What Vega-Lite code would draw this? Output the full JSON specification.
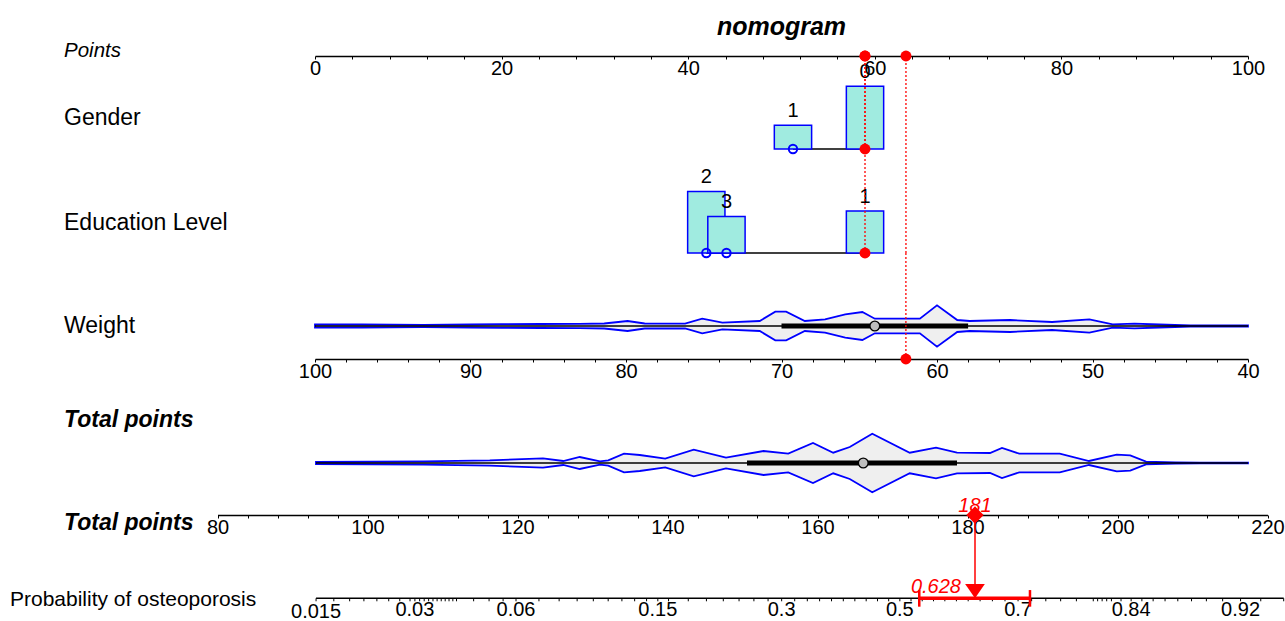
{
  "$schema": "https://vega.github.io/schema/vega-lite/v6.json",
  "padding": 0,
  "bounds": "flush",
  "spacing": 0,
  "config": {
    "view": {"stroke": null},
    "font": "Liberation Sans",
    "axis": {"grid": false, "domainColor": "black", "domainWidth": 1.5, "tickColor": "black", "tickWidth": 1, "tickSize": 3, "labelColor": "black", "labelFontSize": 20, "labelFont": "Liberation Sans", "labelPadding": -1, "labelFlush": false, "labelOverlap": false, "labelBound": false}
  },
  "datasets": {
    "selected": [
      {"variable": "Gender", "value": 0, "points": 58.95},
      {"variable": "Education Level", "value": 1, "points": 58.95},
      {"variable": "Weight", "value": 62, "points": 63.34}
    ],
    "gender": [
      {"level": "0", "points": 58.95, "freq": 0.726, "chosen": true},
      {"level": "1", "points": 51.23, "freq": 0.274, "chosen": false}
    ],
    "education": [
      {"level": "2", "points": 41.94, "freq": 0.44, "chosen": false},
      {"level": "3", "points": 44.1, "freq": 0.26, "chosen": false},
      {"level": "1", "points": 58.95, "freq": 0.3, "chosen": true}
    ],
    "weightDensity": [
      {"weight": 100, "upper": 1.5, "lower": -1.5},
      {"weight": 97, "upper": 1.5, "lower": -1.5},
      {"weight": 93, "upper": 1.2, "lower": -1.2},
      {"weight": 90, "upper": 1.5, "lower": -1.5},
      {"weight": 88, "upper": 1.8, "lower": -1.8},
      {"weight": 85.5, "upper": 2, "lower": -2},
      {"weight": 83, "upper": 2.2, "lower": -2.2},
      {"weight": 81.4, "upper": 2.5, "lower": -2.5},
      {"weight": 79.9, "upper": 5, "lower": -5},
      {"weight": 78.8, "upper": 2.5, "lower": -2.5},
      {"weight": 76.2, "upper": 2.3, "lower": -2.3},
      {"weight": 75.1, "upper": 7.3, "lower": -7.3},
      {"weight": 73.8, "upper": 3.3, "lower": -3.3},
      {"weight": 71.4, "upper": 5, "lower": -5},
      {"weight": 70.4, "upper": 14.3, "lower": -14.3},
      {"weight": 69.7, "upper": 14.3, "lower": -14.3},
      {"weight": 68.5, "upper": 5, "lower": -5},
      {"weight": 67.2, "upper": 6.7, "lower": -6.7},
      {"weight": 65.9, "upper": 11.7, "lower": -11.7},
      {"weight": 64.8, "upper": 14, "lower": -14},
      {"weight": 64, "upper": 7.3, "lower": -7.3},
      {"weight": 63, "upper": 7.3, "lower": -7.3},
      {"weight": 61.1, "upper": 7.3, "lower": -7.3},
      {"weight": 60, "upper": 20.7, "lower": -20.7},
      {"weight": 58.7, "upper": 6, "lower": -6},
      {"weight": 57.9, "upper": 5, "lower": -5},
      {"weight": 55.3, "upper": 6, "lower": -6},
      {"weight": 52.6, "upper": 4, "lower": -4},
      {"weight": 50.2, "upper": 6.7, "lower": -6.7},
      {"weight": 48.7, "upper": 1.7, "lower": -1.7},
      {"weight": 47.3, "upper": 2.3, "lower": -2.3},
      {"weight": 45.7, "upper": 1.5, "lower": -1.5},
      {"weight": 43.7, "upper": 0.5, "lower": -0.5},
      {"weight": 40, "upper": 0.5, "lower": -0.5}
    ],
    "weightSummary": [{"min": 40, "q1": 58, "median": 64, "q3": 70, "max": 100}],
    "totalDensity": [
      {"total": 93.13, "upper": 1, "lower": -1},
      {"total": 107.5, "upper": 1.7, "lower": -1.7},
      {"total": 116.3, "upper": 2.7, "lower": -2.7},
      {"total": 123.4, "upper": 4.7, "lower": -4.7},
      {"total": 126.1, "upper": 2, "lower": -2},
      {"total": 128.3, "upper": 6, "lower": -6},
      {"total": 131, "upper": 1.7, "lower": -1.7},
      {"total": 132.1, "upper": 2.7, "lower": -2.7},
      {"total": 134.2, "upper": 9.3, "lower": -9.3},
      {"total": 136.3, "upper": 8, "lower": -8},
      {"total": 139.7, "upper": 4.3, "lower": -4.3},
      {"total": 143.5, "upper": 13.3, "lower": -13.3},
      {"total": 147.8, "upper": 5.3, "lower": -5.3},
      {"total": 152.8, "upper": 12, "lower": -12},
      {"total": 156.1, "upper": 9.3, "lower": -9.3},
      {"total": 159.4, "upper": 20, "lower": -20},
      {"total": 162.1, "upper": 10.3, "lower": -10.3},
      {"total": 164.3, "upper": 16, "lower": -16},
      {"total": 167.3, "upper": 29.3, "lower": -29.3},
      {"total": 172.3, "upper": 10.3, "lower": -10.3},
      {"total": 175.8, "upper": 15.3, "lower": -15.3},
      {"total": 178.6, "upper": 10.3, "lower": -10.3},
      {"total": 183, "upper": 10, "lower": -10},
      {"total": 184.6, "upper": 15, "lower": -15},
      {"total": 186.9, "upper": 9.3, "lower": -9.3},
      {"total": 192.3, "upper": 9.3, "lower": -9.3},
      {"total": 196.2, "upper": 2, "lower": -2},
      {"total": 199.9, "upper": 8.3, "lower": -8.3},
      {"total": 201.7, "upper": 7.7, "lower": -7.7},
      {"total": 203.8, "upper": 1.3, "lower": -1.3},
      {"total": 207.7, "upper": 0.7, "lower": -0.7},
      {"total": 211, "upper": 0.3, "lower": -0.3},
      {"total": 217.4, "upper": 0.3, "lower": -0.3}
    ],
    "totalSummary": [{"min": 93.13, "q1": 150.6, "median": 166.1, "q3": 178.6, "max": 217.4}],
    "result": [{"total": 181, "totalLabel": "181", "prob": "0.628", "lo": 173.57, "hi": 188.33}],
    "probTicks": [
      {"p": 0.015, "total": 93.14, "label": "0.015"},
      {"p": 0.017, "total": 95.51},
      {"p": 0.019, "total": 97.62},
      {"p": 0.021, "total": 99.52},
      {"p": 0.023, "total": 101.25},
      {"p": 0.025, "total": 102.83},
      {"p": 0.027, "total": 104.3},
      {"p": 0.029, "total": 105.67},
      {"p": 0.03, "total": 106.32, "label": "0.03"},
      {"p": 0.031, "total": 106.95},
      {"p": 0.032, "total": 107.56},
      {"p": 0.033, "total": 108.15},
      {"p": 0.034, "total": 108.73},
      {"p": 0.035, "total": 109.28},
      {"p": 0.036, "total": 109.83},
      {"p": 0.037, "total": 110.36},
      {"p": 0.038, "total": 110.87},
      {"p": 0.039, "total": 111.38},
      {"p": 0.04, "total": 111.87},
      {"p": 0.045, "total": 114.15},
      {"p": 0.05, "total": 116.21},
      {"p": 0.055, "total": 118.08},
      {"p": 0.06, "total": 119.8, "label": "0.06"},
      {"p": 0.07, "total": 122.86},
      {"p": 0.08, "total": 125.55},
      {"p": 0.09, "total": 127.95},
      {"p": 0.1, "total": 130.11},
      {"p": 0.11, "total": 132.09},
      {"p": 0.12, "total": 133.92},
      {"p": 0.13, "total": 135.62},
      {"p": 0.14, "total": 137.21},
      {"p": 0.15, "total": 138.71, "label": "0.15"},
      {"p": 0.16, "total": 140.14},
      {"p": 0.18, "total": 142.77},
      {"p": 0.2, "total": 145.19},
      {"p": 0.22, "total": 147.44},
      {"p": 0.24, "total": 149.54},
      {"p": 0.26, "total": 151.52},
      {"p": 0.28, "total": 153.41},
      {"p": 0.3, "total": 155.22, "label": "0.3"},
      {"p": 0.32, "total": 156.96},
      {"p": 0.34, "total": 158.64},
      {"p": 0.36, "total": 160.28},
      {"p": 0.38, "total": 161.87},
      {"p": 0.4, "total": 163.44},
      {"p": 0.42, "total": 164.98},
      {"p": 0.44, "total": 166.49},
      {"p": 0.46, "total": 168.0},
      {"p": 0.48, "total": 169.49},
      {"p": 0.5, "total": 170.98, "label": "0.5"},
      {"p": 0.52, "total": 172.47},
      {"p": 0.54, "total": 173.96},
      {"p": 0.56, "total": 175.47},
      {"p": 0.58, "total": 176.98},
      {"p": 0.6, "total": 178.52},
      {"p": 0.62, "total": 180.09},
      {"p": 0.64, "total": 181.68},
      {"p": 0.66, "total": 183.32},
      {"p": 0.68, "total": 185.0},
      {"p": 0.7, "total": 186.74, "label": "0.7"},
      {"p": 0.72, "total": 188.55},
      {"p": 0.74, "total": 190.44},
      {"p": 0.76, "total": 192.42},
      {"p": 0.78, "total": 194.52},
      {"p": 0.8, "total": 196.77},
      {"p": 0.805, "total": 197.35},
      {"p": 0.81, "total": 197.95},
      {"p": 0.815, "total": 198.56},
      {"p": 0.82, "total": 199.19},
      {"p": 0.83, "total": 200.47},
      {"p": 0.84, "total": 201.82, "label": "0.84"},
      {"p": 0.85, "total": 203.25},
      {"p": 0.86, "total": 204.75},
      {"p": 0.87, "total": 206.34},
      {"p": 0.88, "total": 208.04},
      {"p": 0.89, "total": 209.87},
      {"p": 0.9, "total": 211.85},
      {"p": 0.91, "total": 214.02},
      {"p": 0.92, "total": 216.41, "label": "0.92"},
      {"p": 0.93, "total": 219.1},
      {"p": 0.94, "total": 222.16}
    ]
  },
  "vconcat": [
    {
      "width": 1285, "height": 56,
      "layer": [
        {
          "data": {"name": "selected"},
          "mark": {"type": "point", "filled": true, "color": "#FF0000", "size": 120, "opacity": 1},
          "encoding": {
            "x": {"field": "points", "type": "quantitative", "scale": {"domain": [0, 100], "range": [315, 1248], "nice": false, "zero": false, "padding": 0},
                  "axis": {"orient": "bottom", "title": null, "values": [0,4,8,12,16,20,24,28,32,36,40,44,48,52,56,60,64,68,72,76,80,84,88,92,96,100], "labelExpr": "datum.value % 20 === 0 ? datum.label : ''"}},
            "y": {"datum": 0, "type": "quantitative", "scale": {"domain": [0, 1], "nice": false, "zero": false}, "axis": null}
          }
        },
        {
          "data": {"values": [{"label": "nomogram"}]},
          "mark": {"type": "text", "fontSize": 25, "fontWeight": "bold", "fontStyle": "italic", "align": "center", "baseline": "alphabetic", "color": "black"},
          "encoding": {
            "text": {"field": "label"},
            "x": {"datum": 50, "type": "quantitative", "scale": {"domain": [0, 100], "range": [315, 1248], "nice": false, "zero": false, "padding": 0},
                  "axis": {"orient": "bottom", "title": null, "values": [0,4,8,12,16,20,24,28,32,36,40,44,48,52,56,60,64,68,72,76,80,84,88,92,96,100], "labelExpr": "datum.value % 20 === 0 ? datum.label : ''"}},
            "y": {"datum": 0.375, "type": "quantitative", "scale": {"domain": [0, 1], "nice": false, "zero": false}, "axis": null}
          }
        },
        {
          "data": {"values": [{"label": "Points"}]},
          "mark": {"type": "text", "fontSize": 20.5, "fontStyle": "italic", "align": "left", "baseline": "alphabetic", "color": "black"},
          "encoding": {
            "text": {"field": "label"},
            "x": {"datum": -26.9, "type": "quantitative", "scale": {"domain": [0, 100], "range": [315, 1248], "nice": false, "zero": false, "padding": 0},
                  "axis": {"orient": "bottom", "title": null, "values": [0,4,8,12,16,20,24,28,32,36,40,44,48,52,56,60,64,68,72,76,80,84,88,92,96,100], "labelExpr": "datum.value % 20 === 0 ? datum.label : ''"}},
            "y": {"datum": -0.023, "type": "quantitative", "scale": {"domain": [0, 1], "nice": false, "zero": false}, "axis": null}
          }
        }
      ]
    },
    {
      "width": 1285, "height": 93,
      "layer": [
        {
          "data": {"name": "gender"},
          "mark": {"type": "rule", "color": "black", "strokeWidth": 1.5},
          "encoding": {
            "x": {"aggregate": "min", "field": "points", "type": "quantitative", "title": null, "scale": {"domain": [0, 100], "range": [315, 1248], "nice": false, "zero": false, "padding": 0}, "axis": null},
            "x2": {"aggregate": "max", "field": "points"},
            "y": {"datum": 0, "type": "quantitative", "scale": {"domain": [0, 1.078], "nice": false, "zero": false, "padding": 0}, "axis": null}
          }
        },
        {
          "data": {"name": "gender"},
          "mark": {"type": "bar", "orient": "vertical", "width": 37.3, "fill": "#A0EBE0", "stroke": "#0000FF", "strokeWidth": 1.5},
          "encoding": {
            "x": {"field": "points", "type": "quantitative", "title": null, "scale": {"domain": [0, 100], "range": [315, 1248], "nice": false, "zero": false, "padding": 0}, "axis": null},
            "y": {"field": "freq", "type": "quantitative", "title": null, "scale": {"domain": [0, 1.078], "nice": false, "zero": false, "padding": 0}, "axis": null}
          }
        },
        {
          "data": {"name": "gender"},
          "mark": {"type": "text", "fontSize": 20, "align": "center", "baseline": "alphabetic", "dy": -8.5, "color": "black"},
          "encoding": {
            "text": {"field": "level"},
            "x": {"field": "points", "type": "quantitative", "scale": {"domain": [0, 100], "range": [315, 1248], "nice": false, "zero": false, "padding": 0}, "axis": null},
            "y": {"field": "freq", "type": "quantitative", "scale": {"domain": [0, 1.078], "nice": false, "zero": false, "padding": 0}, "axis": null}
          }
        },
        {
          "data": {"name": "selected"},
          "mark": {"type": "rule", "color": "#FF0000", "strokeWidth": 1.3, "strokeDash": [2, 2]},
          "encoding": {
            "x": {"field": "points", "type": "quantitative", "scale": {"domain": [0, 100], "range": [315, 1248], "nice": false, "zero": false, "padding": 0}, "axis": null},
            "y": {"datum": 0, "type": "quantitative", "scale": {"domain": [0, 1.078], "nice": false, "zero": false, "padding": 0}, "axis": null},
            "y2": {"datum": 1.078}
          }
        },
        {
          "data": {"name": "gender"},
          "transform": [{"filter": "!datum.chosen"}],
          "mark": {"type": "point", "filled": false, "color": "#0000FF", "strokeWidth": 2, "size": 70, "opacity": 1},
          "encoding": {
            "x": {"field": "points", "type": "quantitative", "scale": {"domain": [0, 100], "range": [315, 1248], "nice": false, "zero": false, "padding": 0}, "axis": null},
            "y": {"datum": 0, "type": "quantitative", "scale": {"domain": [0, 1.078], "nice": false, "zero": false, "padding": 0}, "axis": null}
          }
        },
        {
          "data": {"name": "gender"},
          "transform": [{"filter": "datum.chosen"}],
          "mark": {"type": "point", "filled": true, "color": "#FF0000", "size": 120, "opacity": 1},
          "encoding": {
            "x": {"field": "points", "type": "quantitative", "scale": {"domain": [0, 100], "range": [315, 1248], "nice": false, "zero": false, "padding": 0}, "axis": null},
            "y": {"datum": 0, "type": "quantitative", "scale": {"domain": [0, 1.078], "nice": false, "zero": false, "padding": 0}, "axis": null}
          }
        },
        {
          "data": {"values": [{"label": "Gender"}]},
          "mark": {"type": "text", "fontSize": 23, "align": "left", "baseline": "alphabetic", "color": "black"},
          "encoding": {
            "text": {"field": "label"},
            "x": {"datum": -26.9, "type": "quantitative", "scale": {"domain": [0, 100], "range": [315, 1248], "nice": false, "zero": false, "padding": 0}, "axis": null},
            "y": {"datum": 0.2724, "type": "quantitative", "scale": {"domain": [0, 1.078], "nice": false, "zero": false, "padding": 0}, "axis": null}
          }
        }
      ]
    },
    {
      "width": 1285, "height": 104,
      "layer": [
        {
          "data": {"name": "education"},
          "mark": {"type": "rule", "color": "black", "strokeWidth": 1.5},
          "encoding": {
            "x": {"aggregate": "min", "field": "points", "type": "quantitative", "title": null, "scale": {"domain": [0, 100], "range": [315, 1248], "nice": false, "zero": false, "padding": 0}, "axis": null},
            "x2": {"aggregate": "max", "field": "points"},
            "y": {"datum": 0, "type": "quantitative", "scale": {"domain": [0, 0.743], "nice": false, "zero": false, "padding": 0}, "axis": null}
          }
        },
        {
          "data": {"name": "education"},
          "mark": {"type": "bar", "orient": "vertical", "width": 37.3, "fill": "#A0EBE0", "stroke": "#0000FF", "strokeWidth": 1.5},
          "encoding": {
            "x": {"field": "points", "type": "quantitative", "title": null, "scale": {"domain": [0, 100], "range": [315, 1248], "nice": false, "zero": false, "padding": 0}, "axis": null},
            "y": {"field": "freq", "type": "quantitative", "title": null, "scale": {"domain": [0, 0.743], "nice": false, "zero": false, "padding": 0}, "axis": null}
          }
        },
        {
          "data": {"name": "education"},
          "mark": {"type": "text", "fontSize": 20, "align": "center", "baseline": "alphabetic", "dy": -8.5, "color": "black"},
          "encoding": {
            "text": {"field": "level"},
            "x": {"field": "points", "type": "quantitative", "scale": {"domain": [0, 100], "range": [315, 1248], "nice": false, "zero": false, "padding": 0}, "axis": null},
            "y": {"field": "freq", "type": "quantitative", "scale": {"domain": [0, 0.743], "nice": false, "zero": false, "padding": 0}, "axis": null}
          }
        },
        {
          "data": {"name": "selected"},
          "transform": [{"filter": "datum.variable !== 'Gender'"}],
          "mark": {"type": "rule", "color": "#FF0000", "strokeWidth": 1.3, "strokeDash": [2, 2]},
          "encoding": {
            "x": {"field": "points", "type": "quantitative", "scale": {"domain": [0, 100], "range": [315, 1248], "nice": false, "zero": false, "padding": 0}, "axis": null},
            "y": {"datum": 0, "type": "quantitative", "scale": {"domain": [0, 0.743], "nice": false, "zero": false, "padding": 0}, "axis": null},
            "y2": {"datum": 0.743}
          }
        },
        {
          "data": {"name": "education"},
          "transform": [{"filter": "!datum.chosen"}],
          "mark": {"type": "point", "filled": false, "color": "#0000FF", "strokeWidth": 2, "size": 70, "opacity": 1},
          "encoding": {
            "x": {"field": "points", "type": "quantitative", "scale": {"domain": [0, 100], "range": [315, 1248], "nice": false, "zero": false, "padding": 0}, "axis": null},
            "y": {"datum": 0, "type": "quantitative", "scale": {"domain": [0, 0.743], "nice": false, "zero": false, "padding": 0}, "axis": null}
          }
        },
        {
          "data": {"name": "education"},
          "transform": [{"filter": "datum.chosen"}],
          "mark": {"type": "point", "filled": true, "color": "#FF0000", "size": 120, "opacity": 1},
          "encoding": {
            "x": {"field": "points", "type": "quantitative", "scale": {"domain": [0, 100], "range": [315, 1248], "nice": false, "zero": false, "padding": 0}, "axis": null},
            "y": {"datum": 0, "type": "quantitative", "scale": {"domain": [0, 0.743], "nice": false, "zero": false, "padding": 0}, "axis": null}
          }
        },
        {
          "data": {"values": [{"label": "Education Level"}]},
          "mark": {"type": "text", "fontSize": 23, "align": "left", "baseline": "alphabetic", "color": "black"},
          "encoding": {
            "text": {"field": "label"},
            "x": {"datum": -26.9, "type": "quantitative", "scale": {"domain": [0, 100], "range": [315, 1248], "nice": false, "zero": false, "padding": 0}, "axis": null},
            "y": {"datum": 0.163, "type": "quantitative", "scale": {"domain": [0, 0.743], "nice": false, "zero": false, "padding": 0}, "axis": null}
          }
        }
      ]
    },
    {
      "width": 1285, "height": 106,
      "layer": [
        {
          "data": {"name": "weightDensity"},
          "mark": {"type": "area", "fill": "#EFEFEF", "stroke": "#0000FF", "strokeWidth": 1.8, "opacity": 1},
          "encoding": {
            "x": {"field": "weight", "type": "quantitative", "scale": {"domain": [100, 40], "range": [315, 1248], "nice": false, "zero": false, "padding": 0},
                  "axis": {"orient": "bottom", "title": null, "values": [40,42,44,46,48,50,52,54,56,58,60,62,64,66,68,70,72,74,76,78,80,82,84,86,88,90,92,94,96,98,100], "labelExpr": "datum.value % 10 === 0 ? datum.label : ''"}},
            "y": {"field": "upper", "type": "quantitative", "title": null, "scale": {"domain": [-33, 73], "nice": false, "zero": false}, "axis": null},
            "y2": {"field": "lower"}
          }
        },
        {
          "data": {"name": "weightSummary"},
          "mark": {"type": "rule", "color": "black", "strokeWidth": 1.3},
          "encoding": {
            "x": {"field": "min", "type": "quantitative", "scale": {"domain": [100, 40], "range": [315, 1248], "nice": false, "zero": false, "padding": 0},
                  "axis": {"orient": "bottom", "title": null, "values": [40,42,44,46,48,50,52,54,56,58,60,62,64,66,68,70,72,74,76,78,80,82,84,86,88,90,92,94,96,98,100], "labelExpr": "datum.value % 10 === 0 ? datum.label : ''"}},
            "x2": {"field": "max"},
            "y": {"datum": 0, "type": "quantitative", "scale": {"domain": [-33, 73], "nice": false, "zero": false}, "axis": null}
          }
        },
        {
          "data": {"name": "weightSummary"},
          "mark": {"type": "rule", "color": "black", "strokeWidth": 5},
          "encoding": {
            "x": {"field": "q1", "type": "quantitative", "scale": {"domain": [100, 40], "range": [315, 1248], "nice": false, "zero": false, "padding": 0},
                  "axis": {"orient": "bottom", "title": null, "values": [40,42,44,46,48,50,52,54,56,58,60,62,64,66,68,70,72,74,76,78,80,82,84,86,88,90,92,94,96,98,100], "labelExpr": "datum.value % 10 === 0 ? datum.label : ''"}},
            "x2": {"field": "q3"},
            "y": {"datum": 0, "type": "quantitative", "scale": {"domain": [-33, 73], "nice": false, "zero": false}, "axis": null}
          }
        },
        {
          "data": {"name": "weightSummary"},
          "mark": {"type": "point", "shape": "circle", "filled": true, "fill": "#BEBEBE", "stroke": "black", "strokeWidth": 1.3, "size": 95, "opacity": 1},
          "encoding": {
            "x": {"field": "median", "type": "quantitative", "scale": {"domain": [100, 40], "range": [315, 1248], "nice": false, "zero": false, "padding": 0},
                  "axis": {"orient": "bottom", "title": null, "values": [40,42,44,46,48,50,52,54,56,58,60,62,64,66,68,70,72,74,76,78,80,82,84,86,88,90,92,94,96,98,100], "labelExpr": "datum.value % 10 === 0 ? datum.label : ''"}},
            "y": {"datum": 0, "type": "quantitative", "scale": {"domain": [-33, 73], "nice": false, "zero": false}, "axis": null}
          }
        },
        {
          "data": {"name": "selected"},
          "transform": [{"filter": "datum.variable === 'Weight'"}],
          "mark": {"type": "rule", "color": "#FF0000", "strokeWidth": 1.3, "strokeDash": [2, 2]},
          "encoding": {
            "x": {"field": "value", "type": "quantitative", "scale": {"domain": [100, 40], "range": [315, 1248], "nice": false, "zero": false, "padding": 0},
                  "axis": {"orient": "bottom", "title": null, "values": [40,42,44,46,48,50,52,54,56,58,60,62,64,66,68,70,72,74,76,78,80,82,84,86,88,90,92,94,96,98,100], "labelExpr": "datum.value % 10 === 0 ? datum.label : ''"}},
            "y": {"datum": -33, "type": "quantitative", "scale": {"domain": [-33, 73], "nice": false, "zero": false}, "axis": null},
            "y2": {"datum": 73}
          }
        },
        {
          "data": {"name": "selected"},
          "transform": [{"filter": "datum.variable === 'Weight'"}],
          "mark": {"type": "point", "filled": true, "color": "#FF0000", "size": 120, "opacity": 1},
          "encoding": {
            "x": {"field": "value", "type": "quantitative", "scale": {"domain": [100, 40], "range": [315, 1248], "nice": false, "zero": false, "padding": 0},
                  "axis": {"orient": "bottom", "title": null, "values": [40,42,44,46,48,50,52,54,56,58,60,62,64,66,68,70,72,74,76,78,80,82,84,86,88,90,92,94,96,98,100], "labelExpr": "datum.value % 10 === 0 ? datum.label : ''"}},
            "y": {"datum": -33, "type": "quantitative", "scale": {"domain": [-33, 73], "nice": false, "zero": false}, "axis": null}
          }
        },
        {
          "data": {"values": [{"label": "Weight"}]},
          "mark": {"type": "text", "fontSize": 23, "align": "left", "baseline": "alphabetic", "color": "black"},
          "encoding": {
            "text": {"field": "label"},
            "x": {"datum": 116.14, "type": "quantitative", "scale": {"domain": [100, 40], "range": [315, 1248], "nice": false, "zero": false, "padding": 0},
                  "axis": {"orient": "bottom", "title": null, "values": [40,42,44,46,48,50,52,54,56,58,60,62,64,66,68,70,72,74,76,78,80,82,84,86,88,90,92,94,96,98,100], "labelExpr": "datum.value % 10 === 0 ? datum.label : ''"}},
            "y": {"datum": -7, "type": "quantitative", "scale": {"domain": [-33, 73], "nice": false, "zero": false}, "axis": null}
          }
        }
      ]
    },
    {
      "width": 1285, "height": 156,
      "layer": [
        {
          "data": {"name": "totalDensity"},
          "mark": {"type": "area", "fill": "#EFEFEF", "stroke": "#0000FF", "strokeWidth": 1.8, "opacity": 1},
          "encoding": {
            "x": {"field": "total", "type": "quantitative", "scale": {"domain": [80, 220], "range": [217.5, 1267.5], "nice": false, "zero": false, "padding": 0},
                  "axis": {"orient": "bottom", "title": null, "values": [80,84,88,92,96,100,104,108,112,116,120,124,128,132,136,140,144,148,152,156,160,164,168,172,176,180,184,188,192,196,200,204,208,212,216,220], "labelExpr": "datum.value % 20 === 0 ? datum.label : ''"}},
            "y": {"field": "upper", "type": "quantitative", "title": null, "scale": {"domain": [-52, 104], "nice": false, "zero": false}, "axis": null},
            "y2": {"field": "lower"}
          }
        },
        {
          "data": {"name": "totalSummary"},
          "mark": {"type": "rule", "color": "black", "strokeWidth": 1.3},
          "encoding": {
            "x": {"field": "min", "type": "quantitative", "scale": {"domain": [80, 220], "range": [217.5, 1267.5], "nice": false, "zero": false, "padding": 0},
                  "axis": {"orient": "bottom", "title": null, "values": [80,84,88,92,96,100,104,108,112,116,120,124,128,132,136,140,144,148,152,156,160,164,168,172,176,180,184,188,192,196,200,204,208,212,216,220], "labelExpr": "datum.value % 20 === 0 ? datum.label : ''"}},
            "x2": {"field": "max"},
            "y": {"datum": 0, "type": "quantitative", "scale": {"domain": [-52, 104], "nice": false, "zero": false}, "axis": null}
          }
        },
        {
          "data": {"name": "totalSummary"},
          "mark": {"type": "rule", "color": "black", "strokeWidth": 5},
          "encoding": {
            "x": {"field": "q1", "type": "quantitative", "scale": {"domain": [80, 220], "range": [217.5, 1267.5], "nice": false, "zero": false, "padding": 0},
                  "axis": {"orient": "bottom", "title": null, "values": [80,84,88,92,96,100,104,108,112,116,120,124,128,132,136,140,144,148,152,156,160,164,168,172,176,180,184,188,192,196,200,204,208,212,216,220], "labelExpr": "datum.value % 20 === 0 ? datum.label : ''"}},
            "x2": {"field": "q3"},
            "y": {"datum": 0, "type": "quantitative", "scale": {"domain": [-52, 104], "nice": false, "zero": false}, "axis": null}
          }
        },
        {
          "data": {"name": "totalSummary"},
          "mark": {"type": "point", "shape": "circle", "filled": true, "fill": "#BEBEBE", "stroke": "black", "strokeWidth": 1.3, "size": 95, "opacity": 1},
          "encoding": {
            "x": {"field": "median", "type": "quantitative", "scale": {"domain": [80, 220], "range": [217.5, 1267.5], "nice": false, "zero": false, "padding": 0},
                  "axis": {"orient": "bottom", "title": null, "values": [80,84,88,92,96,100,104,108,112,116,120,124,128,132,136,140,144,148,152,156,160,164,168,172,176,180,184,188,192,196,200,204,208,212,216,220], "labelExpr": "datum.value % 20 === 0 ? datum.label : ''"}},
            "y": {"datum": 0, "type": "quantitative", "scale": {"domain": [-52, 104], "nice": false, "zero": false}, "axis": null}
          }
        },
        {
          "data": {"values": [{"label": "Total points"}]},
          "mark": {"type": "text", "fontSize": 23, "fontWeight": "bold", "fontStyle": "italic", "align": "left", "baseline": "alphabetic", "color": "black"},
          "encoding": {
            "text": {"field": "label"},
            "x": {"datum": 59.53, "type": "quantitative", "scale": {"domain": [80, 220], "range": [217.5, 1267.5], "nice": false, "zero": false, "padding": 0},
                  "axis": {"orient": "bottom", "title": null, "values": [80,84,88,92,96,100,104,108,112,116,120,124,128,132,136,140,144,148,152,156,160,164,168,172,176,180,184,188,192,196,200,204,208,212,216,220], "labelExpr": "datum.value % 20 === 0 ? datum.label : ''"}},
            "y": {"datum": 35.7, "type": "quantitative", "scale": {"domain": [-52, 104], "nice": false, "zero": false}, "axis": null}
          }
        },
        {
          "data": {"name": "result"},
          "mark": {"type": "point", "shape": "diamond", "filled": true, "color": "#FF0000", "size": 300, "opacity": 1},
          "encoding": {
            "x": {"field": "total", "type": "quantitative", "scale": {"domain": [80, 220], "range": [217.5, 1267.5], "nice": false, "zero": false, "padding": 0},
                  "axis": {"orient": "bottom", "title": null, "values": [80,84,88,92,96,100,104,108,112,116,120,124,128,132,136,140,144,148,152,156,160,164,168,172,176,180,184,188,192,196,200,204,208,212,216,220], "labelExpr": "datum.value % 20 === 0 ? datum.label : ''"}},
            "y": {"datum": -52, "type": "quantitative", "scale": {"domain": [-52, 104], "nice": false, "zero": false}, "axis": null}
          }
        },
        {
          "data": {"name": "result"},
          "mark": {"type": "text", "fontSize": 20, "fontStyle": "italic", "align": "center", "baseline": "alphabetic", "color": "#FF0000"},
          "encoding": {
            "text": {"field": "totalLabel"},
            "x": {"field": "total", "type": "quantitative", "scale": {"domain": [80, 220], "range": [217.5, 1267.5], "nice": false, "zero": false, "padding": 0},
                  "axis": {"orient": "bottom", "title": null, "values": [80,84,88,92,96,100,104,108,112,116,120,124,128,132,136,140,144,148,152,156,160,164,168,172,176,180,184,188,192,196,200,204,208,212,216,220], "labelExpr": "datum.value % 20 === 0 ? datum.label : ''"}},
            "y": {"datum": -48.7, "type": "quantitative", "scale": {"domain": [-52, 104], "nice": false, "zero": false}, "axis": null}
          }
        }
      ]
    },
    {
      "width": 1285, "height": 106,
      "layer": [
        {
          "data": {"values": [{"label": "Total points"}]},
          "mark": {"type": "text", "fontSize": 23, "fontWeight": "bold", "fontStyle": "italic", "align": "left", "baseline": "alphabetic", "color": "black"},
          "encoding": {
            "text": {"field": "label"},
            "x": {"datum": 59.53, "type": "quantitative", "scale": {"domain": [80, 220], "range": [217.5, 1267.5], "nice": false, "zero": false, "padding": 0}, "axis": null},
            "y": {"datum": 0.858, "type": "quantitative", "scale": {"domain": [0, 1], "nice": false, "zero": false}, "axis": null}
          }
        },
        {
          "data": {"values": [{"label": "Probability of osteoporosis"}]},
          "mark": {"type": "text", "fontSize": 21, "align": "left", "baseline": "alphabetic", "color": "black"},
          "encoding": {
            "text": {"field": "label"},
            "x": {"datum": 52.33, "type": "quantitative", "scale": {"domain": [80, 220], "range": [217.5, 1267.5], "nice": false, "zero": false, "padding": 0}, "axis": null},
            "y": {"datum": 0.1415, "type": "quantitative", "scale": {"domain": [0, 1], "nice": false, "zero": false}, "axis": null}
          }
        },
        {
          "data": {"name": "probTicks"},
          "mark": {"type": "rule", "color": "black", "strokeWidth": 1},
          "encoding": {
            "x": {"field": "total", "type": "quantitative", "scale": {"domain": [80, 220], "range": [217.5, 1267.5], "nice": false, "zero": false, "padding": 0}, "axis": null},
            "y": {"datum": 0.214, "type": "quantitative", "scale": {"domain": [0, 1], "nice": false, "zero": false}, "axis": null},
            "y2": {"datum": 0.186}
          }
        },
        {
          "data": {"name": "probTicks"},
          "mark": {"type": "rule", "color": "black", "strokeWidth": 1.5},
          "encoding": {
            "x": {"aggregate": "min", "field": "total", "type": "quantitative", "scale": {"domain": [80, 220], "range": [217.5, 1267.5], "nice": false, "zero": false, "padding": 0}, "axis": null},
            "x2": {"aggregate": "max", "field": "total"},
            "y": {"datum": 0.214, "type": "quantitative", "scale": {"domain": [0, 1], "nice": false, "zero": false}, "axis": null}
          }
        },
        {
          "data": {"name": "probTicks"},
          "transform": [{"filter": "datum.label && datum.label !== '0.015'"}],
          "mark": {"type": "text", "fontSize": 20, "align": "center", "baseline": "alphabetic", "color": "black"},
          "encoding": {
            "text": {"field": "label"},
            "x": {"field": "total", "type": "quantitative", "scale": {"domain": [80, 220], "range": [217.5, 1267.5], "nice": false, "zero": false, "padding": 0}, "axis": null},
            "y": {"datum": 0.047, "type": "quantitative", "scale": {"domain": [0, 1], "nice": false, "zero": false}, "axis": null}
          }
        },
        {
          "data": {"name": "probTicks"},
          "transform": [{"filter": "datum.label === '0.015'"}],
          "mark": {"type": "text", "fontSize": 20, "align": "center", "baseline": "alphabetic", "color": "black"},
          "encoding": {
            "text": {"field": "label"},
            "x": {"field": "total", "type": "quantitative", "scale": {"domain": [80, 220], "range": [217.5, 1267.5], "nice": false, "zero": false, "padding": 0}, "axis": null},
            "y": {"datum": 0.028, "type": "quantitative", "scale": {"domain": [0, 1], "nice": false, "zero": false}, "axis": null}
          }
        },
        {
          "data": {"name": "result"},
          "mark": {"type": "rule", "color": "#FF0000", "strokeWidth": 1.5},
          "encoding": {
            "x": {"field": "total", "type": "quantitative", "scale": {"domain": [80, 220], "range": [217.5, 1267.5], "nice": false, "zero": false, "padding": 0}, "axis": null},
            "y": {"datum": 1, "type": "quantitative", "scale": {"domain": [0, 1], "nice": false, "zero": false}, "axis": null},
            "y2": {"datum": 0.33}
          }
        },
        {
          "data": {"name": "result"},
          "mark": {"type": "point", "shape": "M-1,-0.72L1,-0.72L0,0.72Z", "filled": true, "color": "#FF0000", "size": 388, "opacity": 1},
          "encoding": {
            "x": {"field": "total", "type": "quantitative", "scale": {"domain": [80, 220], "range": [217.5, 1267.5], "nice": false, "zero": false, "padding": 0}, "axis": null},
            "y": {"datum": 0.281, "type": "quantitative", "scale": {"domain": [0, 1], "nice": false, "zero": false}, "axis": null}
          }
        },
        {
          "data": {"name": "result"},
          "mark": {"type": "rule", "color": "#FF0000", "strokeWidth": 3.5},
          "encoding": {
            "x": {"field": "lo", "type": "quantitative", "scale": {"domain": [80, 220], "range": [217.5, 1267.5], "nice": false, "zero": false, "padding": 0}, "axis": null},
            "x2": {"field": "hi"},
            "y": {"datum": 0.214, "type": "quantitative", "scale": {"domain": [0, 1], "nice": false, "zero": false}, "axis": null}
          }
        },
        {
          "data": {"name": "result"},
          "mark": {"type": "rule", "color": "#FF0000", "strokeWidth": 2.5},
          "encoding": {
            "x": {"field": "lo", "type": "quantitative", "scale": {"domain": [80, 220], "range": [217.5, 1267.5], "nice": false, "zero": false, "padding": 0}, "axis": null},
            "y": {"datum": 0.292, "type": "quantitative", "scale": {"domain": [0, 1], "nice": false, "zero": false}, "axis": null},
            "y2": {"datum": 0.135}
          }
        },
        {
          "data": {"name": "result"},
          "mark": {"type": "rule", "color": "#FF0000", "strokeWidth": 2.5},
          "encoding": {
            "x": {"field": "hi", "type": "quantitative", "scale": {"domain": [80, 220], "range": [217.5, 1267.5], "nice": false, "zero": false, "padding": 0}, "axis": null},
            "y": {"datum": 0.292, "type": "quantitative", "scale": {"domain": [0, 1], "nice": false, "zero": false}, "axis": null},
            "y2": {"datum": 0.135}
          }
        },
        {
          "data": {"name": "result"},
          "mark": {"type": "text", "fontSize": 20, "fontStyle": "italic", "align": "right", "baseline": "alphabetic", "dx": -14, "color": "#FF0000"},
          "encoding": {
            "text": {"field": "prob"},
            "x": {"field": "total", "type": "quantitative", "scale": {"domain": [80, 220], "range": [217.5, 1267.5], "nice": false, "zero": false, "padding": 0}, "axis": null},
            "y": {"datum": 0.261, "type": "quantitative", "scale": {"domain": [0, 1], "nice": false, "zero": false}, "axis": null}
          }
        }
      ]
    }
  ]
}
